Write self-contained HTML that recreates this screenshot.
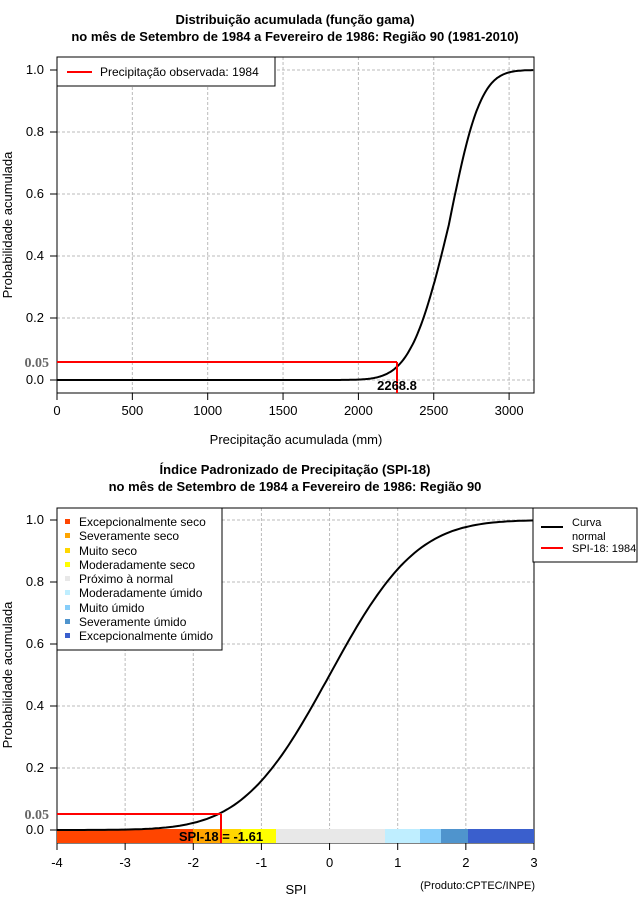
<!DOCTYPE html>
<html><head><meta charset="utf-8"><style>
body{margin:0;background:#fff;}
svg{display:block;font-family:"Liberation Sans",sans-serif;}
</style></head><body>
<svg id="s" width="640" height="900" viewBox="0 0 640 900" xmlns="http://www.w3.org/2000/svg">
<rect width="640" height="900" fill="#fff"/>
<g font-weight="bold" font-size="13" text-anchor="middle" fill="#000">
<text x="295" y="24">Distribuição acumulada (função gama)</text>
<text x="295" y="41">no mês de Setembro de 1984 a Fevereiro de 1986: Região 90 (1981-2010)</text>
<text x="295" y="474">Índice Padronizado de Precipitação (SPI-18)</text>
<text x="295" y="491">no mês de Setembro de 1984 a Fevereiro de 1986: Região 90</text>
</g>
<g id="grid" stroke="#bbb" stroke-dasharray="3,2" stroke-width="1"></g>
<rect x="57" y="57" width="477" height="336" fill="none" stroke="#000"/>
<g id="top"></g>
<line x1="57" y1="362" x2="397" y2="362" stroke="#f00" stroke-width="2"/>
<line x1="397" y1="362" x2="397" y2="393" stroke="#f00" stroke-width="2"/>
<text x="397" y="390" font-size="13" text-anchor="middle" font-weight="bold" fill="#000">2268.8</text>
<text x="49" y="367" font-size="14" font-family="Liberation Serif,serif" font-weight="bold" fill="#666" text-anchor="end">0.05</text>
<rect x="57" y="57" width="218" height="29" fill="#fff" stroke="#000"/>
<line x1="67" y1="72" x2="92" y2="72" stroke="#f00" stroke-width="2"/>
<text x="100" y="76" font-size="12">Precipitação observada: 1984</text>
<text x="296" y="444" font-size="13" text-anchor="middle">Precipitação acumulada (mm)</text>
<text transform="translate(12,225) rotate(-90)" font-size="13" text-anchor="middle">Probabilidade acumulada</text>
<rect x="57" y="508" width="477" height="335" fill="none" stroke="#000"/>
<rect x="57" y="829" width="136" height="14" fill="#ff4500"/>
<rect x="193" y="829" width="28" height="14" fill="#ffa500"/>
<rect x="221" y="829" width="20" height="14" fill="#ffd700"/>
<rect x="241" y="829" width="35" height="14" fill="#ffff00"/>
<rect x="276" y="829" width="109" height="14" fill="#e8e8e8"/>
<rect x="385" y="829" width="35" height="14" fill="#bfeeff"/>
<rect x="420" y="829" width="21" height="14" fill="#87cefa"/>
<rect x="441" y="829" width="27" height="14" fill="#4f94cd"/>
<rect x="468" y="829" width="66" height="14" fill="#3a5fcd"/>
<g id="bot"></g>
<line x1="57" y1="814" x2="221" y2="814" stroke="#f00" stroke-width="2"/>
<line x1="221" y1="814" x2="221" y2="843" stroke="#f00" stroke-width="2"/>
<text x="221" y="841" font-size="13" text-anchor="middle" font-weight="bold">SPI-18 = -1.61</text>
<text x="49" y="819" font-size="14" font-family="Liberation Serif,serif" font-weight="bold" fill="#666" text-anchor="end">0.05</text>
<rect x="57" y="508" width="165" height="142" fill="#fff" stroke="#000"/>
<g font-size="12">
<rect x="65" y="519" width="5" height="5" fill="#ff4500"/><text x="79" y="526">Excepcionalmente seco</text>
<rect x="65" y="533" width="5" height="5" fill="#ffa500"/><text x="79" y="540">Severamente seco</text>
<rect x="65" y="548" width="5" height="5" fill="#ffd700"/><text x="79" y="555">Muito seco</text>
<rect x="65" y="562" width="5" height="5" fill="#ffff00"/><text x="79" y="569">Moderadamente seco</text>
<rect x="65" y="576" width="5" height="5" fill="#e8e8e8"/><text x="79" y="583">Próximo à normal</text>
<rect x="65" y="590" width="5" height="5" fill="#bfeeff"/><text x="79" y="597">Moderadamente úmido</text>
<rect x="65" y="605" width="5" height="5" fill="#87cefa"/><text x="79" y="612">Muito úmido</text>
<rect x="65" y="619" width="5" height="5" fill="#4f94cd"/><text x="79" y="626">Severamente úmido</text>
<rect x="65" y="633" width="5" height="5" fill="#3a5fcd"/><text x="79" y="640">Excepcionalmente úmido</text>
</g>
<rect x="533" y="508" width="104" height="54" fill="#fff" stroke="#000"/>
<line x1="541" y1="527" x2="563" y2="527" stroke="#000" stroke-width="2"/>
<line x1="541" y1="548" x2="563" y2="548" stroke="#f00" stroke-width="2"/>
<g font-size="11"><text x="572" y="526">Curva</text><text x="572" y="540">normal</text><text x="572" y="552">SPI-18: 1984</text></g>
<text x="296" y="894" font-size="13" text-anchor="middle">SPI</text>
<text x="535" y="889" font-size="11" text-anchor="end">(Produto:CPTEC/INPE)</text>
<text transform="translate(12,675) rotate(-90)" font-size="13" text-anchor="middle">Probabilidade acumulada</text>
<g id="ticks" font-size="13"></g>
</svg>
<script>
const NS="http://www.w3.org/2000/svg";
function el(p,t,a,txt){const e=document.createElementNS(NS,t);for(const k in a)e.setAttribute(k,a[k]);if(txt!==undefined)e.textContent=txt;document.getElementById(p).appendChild(e);return e;}
function Phi(z){const t=1/(1+0.2316419*Math.abs(z));const d=0.3989423*Math.exp(-z*z/2);let p=d*t*(0.3193815+t*(-0.3565638+t*(1.781478+t*(-1.821256+t*1.330274))));return z>0?1-p:p;}
const tx=v=>57+v*0.1507, ty=p=>380-310*p;
const by=p=>830-310*p, bx=s=>57+(s+4)*68.14;
for(let v=0;v<=3000;v+=500){const x=tx(v);el("grid","line",{x1:x,y1:57,x2:x,y2:393});
 el("ticks","line",{x1:x,y1:393,x2:x,y2:400,stroke:"#000"});el("ticks","text",{x:x,y:415,"text-anchor":"middle"},v);}
for(let i=0;i<=5;i++){const p=i/5,y=ty(p);el("grid","line",{x1:57,y1:y,x2:534,y2:y});
 el("ticks","line",{x1:50,y1:y,x2:57,y2:y,stroke:"#000"});el("ticks","text",{x:44,y:y+4,"text-anchor":"end"},p.toFixed(1));}
for(let s=-4;s<=3;s++){const x=bx(s);el("grid","line",{x1:x,y1:508,x2:x,y2:843});
 el("ticks","line",{x1:x,y1:843,x2:x,y2:850,stroke:"#000"});el("ticks","text",{x:x,y:867,"text-anchor":"middle"},s);}
for(let i=0;i<=5;i++){const p=i/5,y=by(p);el("grid","line",{x1:57,y1:y,x2:534,y2:y});
 el("ticks","line",{x1:50,y1:y,x2:57,y2:y,stroke:"#000"});el("ticks","text",{x:44,y:y+4,"text-anchor":"end"},p.toFixed(1));}
let d="";
for(let v=0;v<=3166;v+=8){const z=v<2600?(v-2600)/200:(v-2600)/165;let p=Phi(z);d+=(v?"L":"M")+tx(v).toFixed(1)+","+ty(p).toFixed(1);}
el("top","path",{d:d,fill:"none",stroke:"#000","stroke-width":2});
d="";
for(let s=-4;s<=3.001;s+=0.05){d+=(s>-4?"L":"M")+bx(s).toFixed(1)+","+by(Phi(s)).toFixed(1);}
el("bot","path",{d:d,fill:"none",stroke:"#000","stroke-width":2});
</script>
</body></html>
